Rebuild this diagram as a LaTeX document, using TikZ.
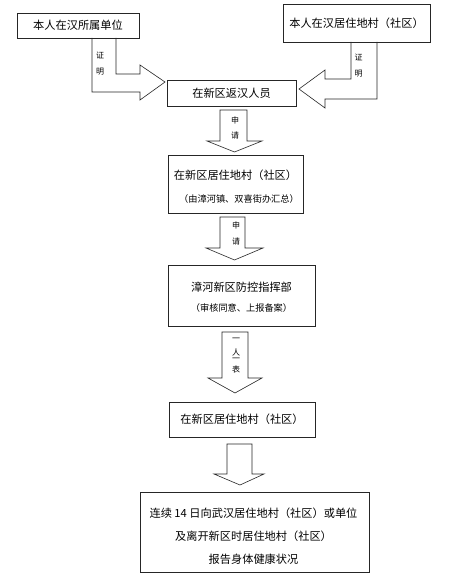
\documentclass[tikz,border=0pt]{standalone}
\usepackage{fontspec}
\setmainfont{Noto Sans CJK SC}
\newfontfamily\cjk{Noto Sans CJK SC}
\begin{document}
\begin{tikzpicture}[x=1pt,y=-1pt,
  boxst/.style={draw=black!85,line width=0.6pt,inner sep=0pt,align=center,font=\cjk\fontsize{11.2}{13}\selectfont},
  bigt/.style={inner sep=0pt,font=\cjk\fontsize{11.2}{13}\selectfont},
  smallt/.style={inner sep=0pt,font=\cjk\fontsize{9.2}{11}\selectfont},
  arrst/.style={draw=black!85,line width=0.6pt,line join=miter},
  lblst/.style={inner sep=0pt,font=\cjk\fontsize{8}{9}\selectfont}]
\useasboundingbox[fill=white] (0,0) rectangle (467,586);
% boxes
\node[boxst,minimum width=122pt,minimum height=25pt] (b1) at (78,25.5) {本人在汉所属单位};
\node[boxst,minimum width=147pt,minimum height=38pt] (b2) at (356.5,23) {本人在汉居住地村（社区）};
\node[boxst,minimum width=129pt,minimum height=26pt] (b3) at (231.5,93) {在新区返汉人员};
\node[boxst,minimum width=135pt,minimum height=58pt] (b4) at (235.5,184) {};
\node[boxst,minimum width=147pt,minimum height=61pt] (b5) at (241.5,295.5) {};
\node[boxst,minimum width=146pt,minimum height=35pt] (b6) at (242,419.5) {在新区居住地村（社区）};
\node[boxst,minimum width=229pt,minimum height=80pt] (b7) at (254.5,532) {};
% texts of multi-line boxes
\node[bigt] (t4a) at (235.5,175) {在新区居住地村（社区）};
\node[smallt] (t4b) at (239,199) {（由漳河镇、双喜街办汇总）};
\node[bigt] (t5a) at (241.5,287) {漳河新区防控指挥部};
\node[smallt] (t5b) at (241.5,308) {（审核同意、上报备案）};
\node[bigt] (t7a) at (253.5,513) {连续 14 日向武汉居住地村（社区）或单位};
\node[bigt] (t7b) at (253.5,536) {及离开新区时居住地村（社区）};
\node[bigt] (t7c) at (253.5,559) {报告身体健康状况};
% left L-shaped block arrow (b1 -> b3)
\draw[arrst] (92,38) -- (92,92) -- (140,92) -- (140,100) -- (165,82) -- (140,65) -- (140,74) -- (116,74) -- (116,38);
\node[lblst] (l1a) at (100,55) {证};
\node[lblst] (l1b) at (100,72) {明};
% right L-shaped block arrow (b2 -> b3)
\draw[arrst] (377,42) -- (377,99) -- (325,99) -- (325,108) -- (299,89) -- (325,70) -- (325,79) -- (351,79) -- (351,42);
\node[lblst] (l2a) at (358.5,57) {证};
\node[lblst] (l2b) at (358.5,74) {明};
% down arrows
\draw[arrst] (220,110) -- (220,141) -- (207,141) -- (234.5,152) -- (262,141) -- (247,141) -- (247,110) -- cycle;
\node[lblst] (l3a) at (235,120) {申};
\node[lblst] (l3b) at (235,135) {请};
\draw[arrst] (220,217) -- (220,248) -- (206,248) -- (234.5,260) -- (263,248) -- (245,248) -- (245,217) -- cycle;
\node[lblst] (l4a) at (236,225) {申};
\node[lblst] (l4b) at (236,241) {请};
\draw[arrst] (222,332) -- (222,378) -- (208,378) -- (235,393) -- (262,378) -- (248,378) -- (248,332) -- cycle;
\node[lblst] (l5a) at (236,340) {一};
\node[lblst] (l5b) at (236,352) {人};
\node[lblst] (l5c) at (236,360) {一};
\node[lblst] (l5d) at (236,369) {表};
\draw[arrst] (227,444) -- (227,474) -- (214,474) -- (240,485) -- (264,474) -- (252,474) -- (252,444) -- cycle;
\end{tikzpicture}
\end{document}
